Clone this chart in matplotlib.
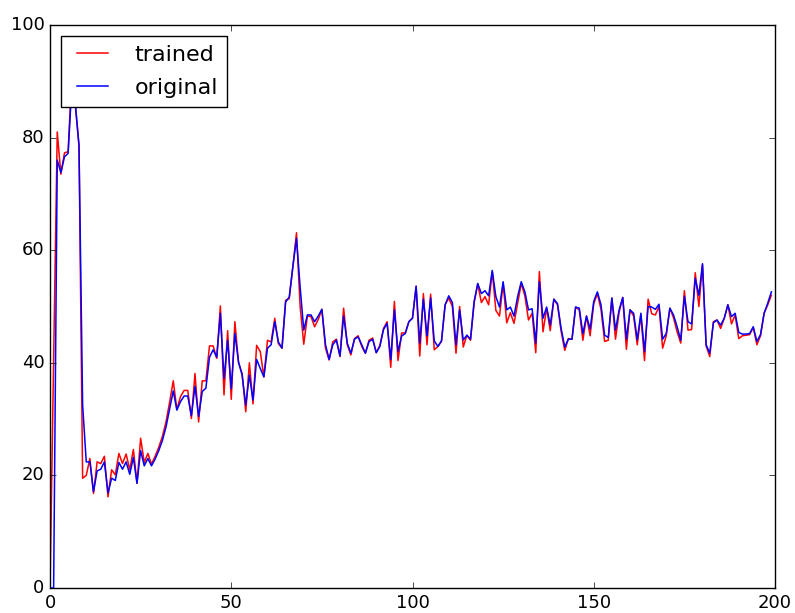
import matplotlib
matplotlib.use("Agg")
import matplotlib.pyplot as plt
import numpy as np

plt.style.use('classic')

trained = [
    0, 40, 81, 73.5, 77.3, 77.5, 91, 85.5, 78.7, 19.5,
    20, 23, 16.8, 22.4, 22.1, 23.4, 16.2, 21, 20.1, 23.9,
    22.1, 23.8, 21, 24.6, 18.6, 26.6, 22.3, 23.9, 22, 23.4,
    25, 26.9, 29.5, 33, 36.8, 31.7, 34, 35.1, 35.1, 30.1,
    38.1, 29.5, 36.8, 36.8, 43, 43, 40.8, 50.1, 34.3, 45.7,
    33.5, 47.3, 40, 38.1, 31.3, 40, 32.7, 43.1, 42, 37.5,
    44, 43.7, 47.9, 43.4, 42.6, 51.1, 51.4, 57.1, 63.1, 50,
    43.3, 48.3, 48.2, 46.4, 47.7, 49.5, 42.6, 40.5, 43.7, 44.2,
    41.1, 49.7, 43.2, 41.4, 44.3, 44.8, 42.9, 41.7, 44, 44.4,
    41.8, 43.1, 46.1, 47.3, 39.2, 50.9, 40.4, 45.3, 45.3, 47.3,
    48, 53.6, 41.2, 52.3, 43.2, 52.2, 42.3, 42.9, 43.8, 50.3,
    51.5, 50, 41.7, 50, 42.8, 44.9, 44, 50.6, 54, 50.7,
    51.75, 50.3, 56.2, 49.3, 48.3, 54.1, 47.1, 48.9, 47, 50.6,
    54.1, 51.9, 47.6, 48.8, 41.8, 56.2, 45.5, 49.7, 45.7, 51.3,
    50.3, 45.6, 42.2, 44.3, 44.2, 49.9, 49.4, 44, 48.3, 44.8,
    50.5, 52.3, 49.5, 43.8, 44, 51.5, 44.2, 49, 51.6, 42.4,
    49.4, 48.3, 43.2, 48.5, 40.4, 51.3, 48.7, 48.5, 50, 42.6,
    44.8, 49.7, 48, 45.5, 43.5, 52.8, 45.8, 45.9, 56, 50,
    57.4, 43, 41.1, 47.3, 47.6, 46.1, 47.9, 50.3, 46.9, 48.5,
    44.3, 44.8, 44.9, 45, 46.3, 43.2, 44.8, 48.8, 50.3, 52,
]

original = [
    0, 0, 76, 73.8, 76.6, 77.2, 89, 86, 78.5, 32.5,
    22.4, 22.4, 17.1, 20.8, 21.1, 22.4, 16.9, 19.5, 19.1, 22.3,
    21.1, 22.4, 20.2, 23.2, 18.6, 24.4, 21.7, 23, 21.7, 22.9,
    24.4, 26.2, 28.6, 31.8, 35, 31.6, 33.1, 34.1, 34.1, 30.6,
    35.8, 30.5, 34.9, 35.5, 41, 42.3, 41, 48.8, 37.2, 44,
    35.4, 45.2, 40.2, 37.8, 32.5, 37.8, 33.4, 40.6, 39, 37.5,
    42.6, 43.2, 47.3, 43.7, 42.6, 50.8, 51.7, 57.1, 62.1, 53.5,
    45.8, 48.5, 48.5, 47.3, 48.3, 49.5, 43.2, 40.6, 43.2, 44.05,
    41.2, 48.3, 43.5, 41.7, 44.2, 44.6, 43.2, 41.7, 43.75, 44.2,
    41.8, 42.9, 45.9, 47, 40.6, 49.4, 42, 44.75, 45.2, 47.3,
    47.9, 53.6, 43.5, 51.3, 44.8, 51.5, 43.9, 42.9, 43.9, 50.3,
    51.9, 50.7, 43.2, 49.4, 44.05, 44.9, 44.2, 50.9, 54.1, 52.3,
    52.8, 51.9, 56.4, 51.75, 49.9, 54.4, 49.4, 49.9, 48.3, 51.75,
    54.4, 52.6, 49.4, 49.6, 43.5, 54.4, 47.9, 49.9, 46.7, 51.3,
    50.5, 46.1, 42.8, 44.2, 44.2, 49.9, 49.7, 45.2, 48.3, 46,
    50.9, 52.6, 50.3, 44.9, 44.5, 51.5, 45.8, 49.4, 51.6, 44.2,
    49.4, 48.8, 44.1, 48.8, 42, 50, 49.9, 49.5, 50.4, 44.2,
    45.2, 49.7, 48.5, 46.4, 44, 51.8, 47.3, 46.9, 55, 52,
    57.6, 43.2, 41.7, 47.1, 47.6, 46.7, 47.9, 50.3, 48.2, 48.8,
    45.4, 45.1, 45.1, 45.2, 46.4, 43.8, 45, 48.8, 50.6, 52.6,
]

x = np.arange(len(trained))

fig = plt.figure(figsize=(7.95, 6.13), dpi=100)
ax = fig.add_axes([50/795, 25/613, 725/795, 563/613])
ax.plot(x, trained, color='r', lw=1.1, label='trained')
ax.plot(x, original, color='b', lw=1.1, label='original')
ax.set_xlim(0, 200)
ax.set_ylim(0, 100)
ax.set_xticks([0, 50, 100, 150, 200])
ax.set_yticks([0, 20, 40, 60, 80, 100])
ax.tick_params(labelsize=13)
ax.legend(loc='upper left', fontsize=16, handlelength=2.0, handletextpad=0.9,
          borderaxespad=0.5, labelspacing=0.58)
fig.savefig('out.png', dpi=100, facecolor='white')
